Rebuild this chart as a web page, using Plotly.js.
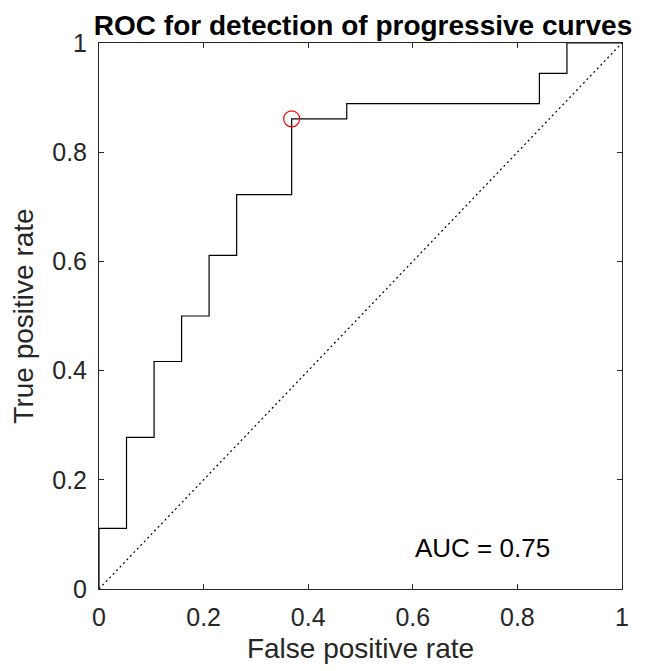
<!DOCTYPE html>
<html>
<head>
<meta charset="utf-8">
<script src="https://cdn.plot.ly/plotly-3.0.1.min.js"></script>
<style>html,body{margin:0;padding:0;background:#fff}#plot{width:646px;height:671px}</style>
</head>
<body>
<div id="plot"></div>
<script>
// ROC staircase (false positive rate, true positive rate)
const fpr = [0, 0, 0.0526, 0.1053, 0.1579, 0.2105, 0.2632, 0.3684, 0.4737, 0.8421, 0.8947, 1];
const tpr = [0, 0.1111, 0.2778, 0.4167, 0.5, 0.6111, 0.7222, 0.8611, 0.8889, 0.9444, 1, 1];
// chance line
const chanceX = [0, 1];
const chanceY = [0, 1];
// optimal operating point
const optX = [0.3684];
const optY = [0.8611];
// annotation
const aucText = 'AUC = 0.75';
const aucPos = [0.6, 0.075];
const tickVals = [0, 0.2, 0.4, 0.6, 0.8, 1];
const tickText = ['0', '0.2', '0.4', '0.6', '0.8', '1'];

const axisCommon = {
  range: [0, 1],
  showgrid: false,
  zeroline: false,
  showline: true,
  mirror: 'ticks',
  linecolor: '#262626',
  linewidth: 1,
  ticks: 'inside',
  ticklen: 5,
  tickwidth: 1,
  tickcolor: '#262626',
  tickvals: tickVals,
  ticktext: tickText,
  tickfont: {family: 'Liberation Sans, Arial, sans-serif', size: 25, color: '#262626'},
  fixedrange: true
};

const data = [
  {x: chanceX, y: chanceY, mode: 'lines', line: {color: '#000', width: 1.2, dash: '2px,3px'}, hoverinfo: 'skip'},
  {x: fpr, y: tpr, mode: 'lines', line: {color: '#000', width: 1.2, shape: 'hv'}},
  {x: optX, y: optY, mode: 'markers', marker: {symbol: 'circle-open', size: 16, color: '#ff0000', line: {width: 1.2, color: '#ff0000'}}}
];

const layout = {
  width: 646, height: 671,
  margin: {l: 99, r: 24, t: 43, b: 82},
  paper_bgcolor: '#fff', plot_bgcolor: '#fff',
  showlegend: false,
  title: {text: '<b>ROC for detection of progressive curves</b>', x: 0.562, xanchor: 'center', y: 0.963, yanchor: 'middle',
    font: {family: 'Liberation Sans, Arial, sans-serif', size: 28, color: '#000'}},
  xaxis: Object.assign({}, axisCommon, {
    title: {text: 'False positive rate', font: {family: 'Liberation Sans, Arial, sans-serif', size: 28, color: '#262626'}, standoff: 8},
    ticklabelstandoff: 6
  }),
  yaxis: Object.assign({}, axisCommon, {
    title: {text: 'True positive rate', font: {family: 'Liberation Sans, Arial, sans-serif', size: 28, color: '#262626'}, standoff: 10},
    ticklabelstandoff: 6
  }),
  annotations: [{x: aucPos[0], y: aucPos[1], xref: 'x', yref: 'y', text: aucText, showarrow: false, xanchor: 'left', yanchor: 'middle',
    font: {family: 'Liberation Sans, Arial, sans-serif', size: 26, color: '#000'}}]
};

Plotly.newPlot('plot', data, layout, {displayModeBar: false, staticPlot: true});
</script>
</body>
</html>
